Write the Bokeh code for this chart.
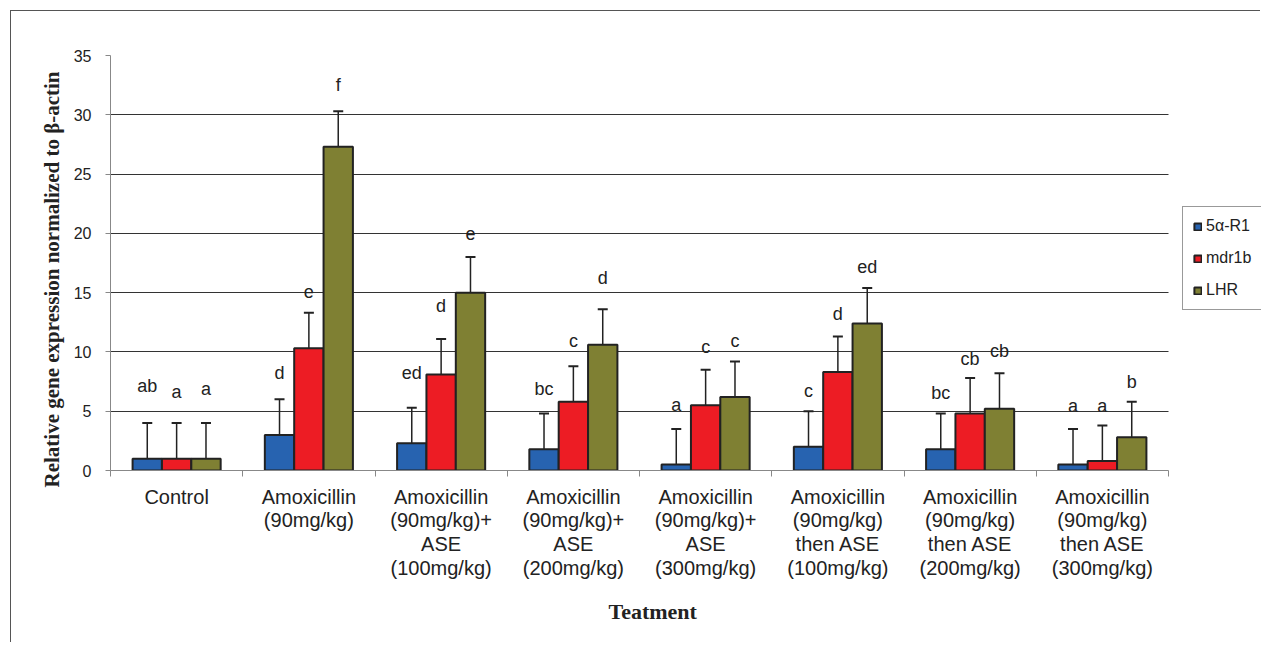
from bokeh.plotting import figure
from bokeh.models import (ColumnDataSource, Whisker, TeeHead, FixedTicker, Legend,
                          LegendItem, Grid, Title)
from bokeh.core.properties import value
from bokeh.embed import file_html
from bokeh.resources import INLINE

categories = [
    "Control",
    "Amoxicillin\n(90mg/kg)",
    "Amoxicillin\n(90mg/kg)+\nASE\n(100mg/kg)",
    "Amoxicillin\n(90mg/kg)+\nASE\n(200mg/kg)",
    "Amoxicillin\n(90mg/kg)+\nASE\n(300mg/kg)",
    "Amoxicillin\n(90mg/kg)\nthen ASE\n(100mg/kg)",
    "Amoxicillin\n(90mg/kg)\nthen ASE\n(200mg/kg)",
    "Amoxicillin\n(90mg/kg)\nthen ASE\n(300mg/kg)",
]
series_names = ["5α-R1", "mdr1b", "LHR"]

val_5ar1 = [1.0, 3.0, 2.3, 1.8, 0.5, 2.0, 1.8, 0.5]
val_mdr1b = [1.0, 10.3, 8.1, 5.8, 5.5, 8.3, 4.8, 0.8]
val_lhr = [1.0, 27.3, 15.0, 10.6, 6.2, 12.4, 5.2, 2.8]

err_5ar1 = [3.0, 3.0, 3.0, 3.0, 3.0, 3.0, 3.0, 3.0]
err_mdr1b = [3.0, 3.0, 3.0, 3.0, 3.0, 3.0, 3.0, 3.0]
err_lhr = [3.0, 3.0, 3.0, 3.0, 3.0, 3.0, 3.0, 3.0]

let_5ar1 = ["ab", "d", "ed", "bc", "a", "c", "bc", "a"]
let_mdr1b = ["a", "e", "d", "c", "c", "d", "cb", "a"]
let_lhr = ["a", "f", "e", "d", "c", "ed", "cb", "b"]

lety_5ar1 = [7.1, 8.2, 8.2, 6.9, 5.5, 6.7, 6.5, 5.4]
lety_mdr1b = [6.6, 15.1, 13.9, 10.9, 10.4, 13.2, 9.4, 5.4]
lety_lhr = [6.9, 32.5, 20.0, 16.2, 10.9, 17.2, 10.1, 7.5]

y_ticks = [0, 5, 10, 15, 20, 25, 30, 35]

x_title = "Teatment"
y_title = "Relative gene expression normalized to β-actin"

colors = ["#2763b0", "#ed1c24", "#7f8033"]
values = [val_5ar1, val_mdr1b, val_lhr]
errors = [err_5ar1, err_mdr1b, err_lhr]
letters = [let_5ar1, let_mdr1b, let_lhr]
letter_y = [lety_5ar1, lety_mdr1b, lety_lhr]

n = len(categories)
bar_w = 0.222
offsets = [-bar_w, 0.0, bar_w]

# layout (pixels)
fig_w, fig_h = 1250, 632
left_b, top_b, bottom_b = 99, 44, 173
cat_px = 1058.0                      # pixel width of the 8 categories
frame_w = fig_w - left_b             # frame runs to the right canvas edge
x_end = n * frame_w / cat_px

p = figure(width=fig_w, height=fig_h, x_range=(0, x_end), y_range=(0, 35),
           output_backend="svg", toolbar_location=None,
           min_border_left=left_b, min_border_right=0,
           min_border_top=top_b, min_border_bottom=bottom_b)
p.styles = {"margin-left": "10px", "margin-top": "10px",
            "border-left": "1px solid #555", "border-top": "1px solid #555"}
p.outline_line_color = None
p.background_fill_color = "white"
p.border_fill_color = "white"

has_cross = "cross_bounds" in Grid.properties()

# grid
p.xgrid.visible = False
p.ygrid.ticker = FixedTicker(ticks=y_ticks[1:-1])
p.ygrid.grid_line_color = "#333333"
p.ygrid.grid_line_width = 1
g35 = Grid(dimension=1, ticker=FixedTicker(ticks=[y_ticks[-1]]),
           grid_line_color="#d9d9d9", grid_line_width=1)
p.add_layout(g35)
if has_cross:
    p.ygrid.cross_bounds = (0, n)
    g35.cross_bounds = (0, n)

# y axis
p.yaxis.ticker = FixedTicker(ticks=y_ticks)
p.yaxis.axis_line_color = "#888888"
p.yaxis.major_tick_line_color = "#888888"
p.yaxis.major_tick_out = 5
p.yaxis.major_tick_in = 0
p.yaxis.minor_tick_line_color = None
p.yaxis.major_label_text_font = "Liberation Sans"
p.yaxis.major_label_text_font_size = "16px"
p.yaxis.major_label_text_color = "#222222"
p.yaxis.major_label_standoff = 14

# x axis
centers = [i + 0.5 for i in range(n)]
p.xaxis.bounds = (0, n)
p.xaxis.ticker = FixedTicker(ticks=centers, minor_ticks=list(range(n + 1)))
p.xaxis.major_label_overrides = {c: lab for c, lab in zip(centers, categories)}
p.xaxis.axis_line_color = "#888888"
p.xaxis.major_tick_line_color = None
p.xaxis.major_tick_out = 0
p.xaxis.major_tick_in = 0
p.xaxis.minor_tick_line_color = "#888888"
p.xaxis.minor_tick_out = 6
p.xaxis.minor_tick_in = 0
p.xaxis.major_label_text_font = "Liberation Sans"
p.xaxis.major_label_text_font_size = "20px"
p.xaxis.major_label_text_color = "#222222"
p.xaxis.major_label_text_line_height = 1.08
p.xaxis.major_label_standoff = 9

# axis titles (side titles, positioned over the category area)
xt = Title(text=x_title, align="left", offset=498, standoff=30,
           text_font="Liberation Serif", text_font_style="bold",
           text_font_size="22px", text_color="#222222")
p.add_layout(xt, "below")
yt = Title(text=y_title, align="left", offset=-17, standoff=14,
           text_font="Liberation Serif", text_font_style="bold",
           text_font_size="21px", text_color="#222222")
p.add_layout(yt, "left")

items = []
for k in range(3):
    xs = [c + offsets[k] for c in centers]
    upper = [v + e for v, e in zip(values[k], errors[k])]
    src = ColumnDataSource(dict(x=xs, top=values[k], upper=upper,
                                lab=letters[k], ly=letter_y[k]))
    w = Whisker(base="x", lower="top", upper="upper", source=src,
                line_color="#222222", line_width=1.5,
                upper_head=TeeHead(size=10, line_color="#222222", line_width=2),
                lower_head=None)
    p.add_layout(w)
    r = p.vbar(x="x", top="top", bottom=0, width=bar_w, source=src,
               fill_color=colors[k], line_color="#222222", line_width=2)
    p.text(x="x", y="ly", text="lab", source=src,
           text_font=value("Liberation Sans"), text_font_size="18px",
           text_align="center", text_baseline="middle", text_color="#222222")
    items.append(LegendItem(label=series_names[k], renderers=[r]))

legend = Legend(items=items, location=(1072, 160),
                border_line_color="#333333", border_line_width=1,
                padding=10, spacing=14, margin=0,
                label_height=16, glyph_width=9, glyph_height=9,
                label_text_font="Liberation Sans", label_text_font_size="16px",
                label_text_color="#222222", label_standoff=4, label_width=70,
                background_fill_color="white", background_fill_alpha=1)
p.add_layout(legend)

open("out.html", "w").write(file_html(p, INLINE))
